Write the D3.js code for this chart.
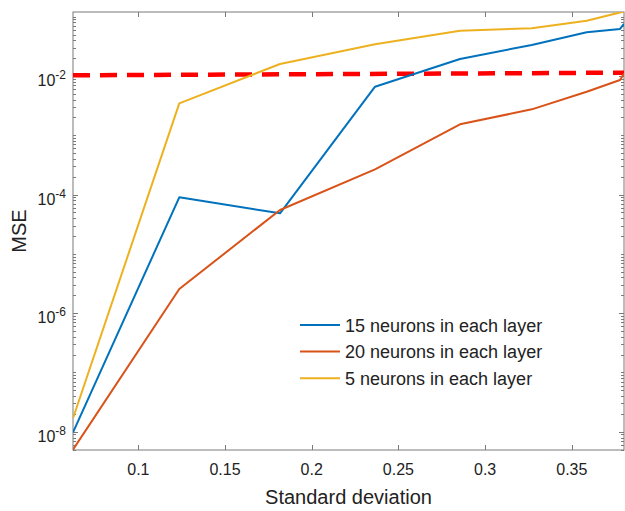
<!DOCTYPE html>
<html>
<head>
<meta charset="utf-8">
<script src="https://cdn.jsdelivr.net/npm/d3@7"></script>
<style>
  body { margin: 0; background: #fff; }
  svg { font-family: "Liberation Sans", Arial, sans-serif; }
  .series { fill: none; stroke-width: 2; stroke-linejoin: round; }
</style>
</head>
<body>
<div id="chart"></div>
<script>
// values
var stdDev = [0.0623, 0.1236, 0.1817, 0.2365, 0.2855, 0.3269, 0.3586, 0.3778, 0.3801];
var mse15 = [9.8e-9, 9.0e-5, 4.84e-5, 6.6e-3, 0.0194, 0.0334, 0.0546, 0.0621, 0.0753];
var mse20 = [5.0e-9, 2.56e-6, 5.5e-5, 2.67e-4, 1.53e-3, 2.74e-3, 5.43e-3, 8.57e-3, 0.0110];
var mse5 = [1.69e-8, 3.46e-3, 0.0159, 0.0343, 0.058, 0.0637, 0.0857, 0.118, 0.122];
var thresholdX = [0.0623, 0.3801];
var thresholdY = [0.01027, 0.01137];
var seriesNames = ['15 neurons in each layer', '20 neurons in each layer', '5 neurons in each layer'];
var seriesColors = ['#0072BD', '#D95319', '#EDB120'];
var xTicks = [0.1, 0.15, 0.2, 0.25, 0.3, 0.35];
var yTickExps = [-8, -6, -4, -2];

var consts = {
    width: 625,
    height: 511,
    left: 73,
    right: 624,
    top: 12,
    bottom: 450
};

var svg = d3.select('#chart').append('svg')
    .attr('width', consts.width)
    .attr('height', consts.height);

var x = d3.scaleLinear().domain([0.0623, 0.3801]).range([consts.left, consts.right]);
var y = d3.scaleLog().domain([4.93e-9, 0.12]).range([consts.bottom, consts.top]);

var axisColor = '#7a7a7a';
var textColor = '#222';

svg.append('clipPath').attr('id', 'plot-clip')
    .append('rect')
    .attr('x', consts.left).attr('y', consts.top)
    .attr('width', consts.right - consts.left)
    .attr('height', consts.bottom - consts.top);

// box
svg.append('rect')
    .attr('x', consts.left).attr('y', consts.top)
    .attr('width', consts.right - consts.left)
    .attr('height', consts.bottom - consts.top)
    .attr('fill', 'none')
    .attr('stroke', axisColor)
    .attr('stroke-width', 1);

// x ticks (inward, bottom and top)
var xt = svg.append('g');
xTicks.forEach(function (t) {
    var px = Math.round(x(t)) + 0.5;
    xt.append('line').attr('x1', px).attr('x2', px)
        .attr('y1', consts.bottom).attr('y2', consts.bottom - 5)
        .attr('stroke', axisColor);
    xt.append('line').attr('x1', px).attr('x2', px)
        .attr('y1', consts.top).attr('y2', consts.top + 5)
        .attr('stroke', axisColor);
    xt.append('text')
        .attr('x', x(t)).attr('y', 475)
        .attr('text-anchor', 'middle')
        .attr('font-size', 16)
        .attr('fill', textColor)
        .text(d3.format('')(t));
});

// y ticks: majors every decade, minors 2..9
var yt = svg.append('g');
var lo = Math.floor(Math.log10(y.domain()[0]));
var hi = Math.ceil(Math.log10(y.domain()[1]));
for (var e = lo; e <= hi; e++) {
    for (var m = 1; m <= 9; m++) {
        var v = m * Math.pow(10, e);
        if (v < y.domain()[0] || v > y.domain()[1]) continue;
        var len = (m === 1 && e % 2 === 0) ? 5 : 3;
        var py = Math.round(y(v)) + 0.5;
        yt.append('line').attr('x1', consts.left).attr('x2', consts.left + len)
            .attr('y1', py).attr('y2', py).attr('stroke', axisColor);
        yt.append('line').attr('x1', consts.right).attr('x2', consts.right - len)
            .attr('y1', py).attr('y2', py).attr('stroke', axisColor);
    }
}
yTickExps.forEach(function (e) {
    var label = yt.append('text')
        .attr('x', 66).attr('y', y(Math.pow(10, e)) + 10)
        .attr('text-anchor', 'end')
        .attr('fill', textColor);
    label.append('tspan').attr('font-size', 16).text('10');
    label.append('tspan').attr('font-size', 12).attr('dy', -7).text(String(e));
});

// threshold
var plot = svg.append('g').attr('clip-path', 'url(#plot-clip)');
var lineGen = d3.line()
    .x(function (d) { return x(d[0]); })
    .y(function (d) { return y(d[1]); });

plot.append('path')
    .attr('d', lineGen(d3.zip(thresholdX, thresholdY)))
    .attr('fill', 'none')
    .attr('stroke', '#ff0000')
    .attr('stroke-width', 4.5)
    .attr('stroke-dasharray', '17,10');

var seriesValues = [mse15, mse20, mse5];
seriesValues.forEach(function (vals, i) {
    plot.append('path')
        .attr('class', 'series')
        .attr('d', lineGen(d3.zip(stdDev, vals)))
        .attr('stroke', seriesColors[i]);
});

// legend (no box)
var legend = svg.append('g');
seriesNames.forEach(function (name, i) {
    var ly = 325 + i * 26.6;
    legend.append('line')
        .attr('x1', 300).attr('x2', 340)
        .attr('y1', ly).attr('y2', ly)
        .attr('stroke', seriesColors[i])
        .attr('stroke-width', 2);
    legend.append('text')
        .attr('x', 345).attr('y', ly + 6.5)
        .attr('font-size', 18)
        .attr('fill', textColor)
        .text(name);
});

// axis titles
svg.append('text')
    .attr('x', (consts.left + consts.right) / 2).attr('y', 504)
    .attr('text-anchor', 'middle')
    .attr('font-size', 20)
    .attr('fill', textColor)
    .text('Standard deviation');

svg.append('text')
    .attr('transform', 'translate(26,' + ((consts.top + consts.bottom) / 2) + ') rotate(-90)')
    .attr('text-anchor', 'middle')
    .attr('font-size', 20)
    .attr('fill', textColor)
    .text('MSE');
</script>
</body>
</html>
